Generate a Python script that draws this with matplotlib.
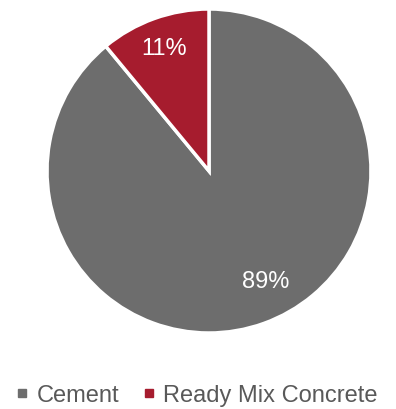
import numpy as np
import matplotlib.pyplot as plt
from matplotlib.lines import Line2D

plt.rcParams['font.family'] = ['Liberation Sans', 'DejaVu Sans']

labels = ['Cement', 'Ready Mix Concrete']
shares = [89, 11]
colors = ['#6d6d6d', '#a61c2e']

fig = plt.figure(figsize=(3.96, 4.10), dpi=100)
ax = fig.add_axes([47 / 396, 76 / 410, 324 / 396, 324 / 410])

wedges, texts, autotexts = ax.pie(
    shares, colors=colors, startangle=90, counterclock=False,
    autopct='%d%%', pctdistance=0.8,
    wedgeprops=dict(edgecolor='white', linewidth=2.5),
    textprops=dict(color='white', fontsize=17))
# move the labels a bit, like in the original
autotexts[0].set_position((0.35, -0.68))
autotexts[1].set_position((-0.28, 0.76))
ax.set_xlim(-1.0, 1.0)
ax.set_ylim(-1.0, 1.0)
ax.set_aspect('equal')

handles = [Line2D([], [], marker='s', linestyle='', markersize=6,
                  color=c) for c in colors]
fig.legend(handles, labels, loc='center', bbox_to_anchor=(0.497, 0.034),
           ncol=2, frameon=False, fontsize=17, labelcolor='#595959',
           handlelength=0.5, handletextpad=0.35, columnspacing=1.0,
           borderaxespad=0)

fig.savefig('out.png', dpi=100)
